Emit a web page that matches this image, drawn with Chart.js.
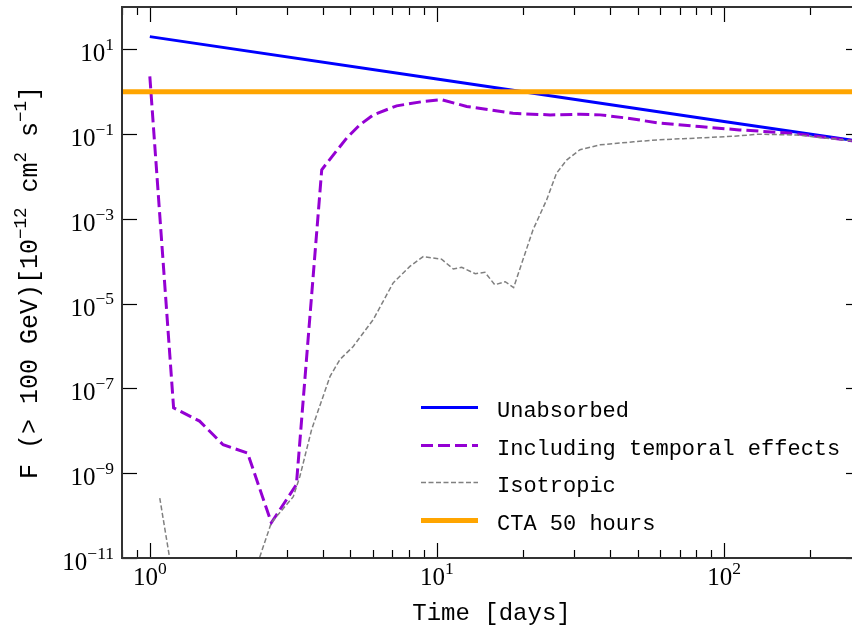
<!DOCTYPE html>
<html>
<head>
<meta charset="utf-8">
<script src="https://cdn.jsdelivr.net/npm/chart.js@4.4.1/dist/chart.umd.min.js"></script>
<style>
  html, body { margin: 0; padding: 0; background: #fff; }
  #wrap { width: 852px; height: 628px; overflow: hidden; }
  canvas { display: block; }
</style>
</head>
<body>
<div id="wrap"><canvas id="chart" width="861" height="628"></canvas></div>
<script>
// time in days, flux F(>100 GeV) in 1e-12 cm^-2 s^-1
var unabsorbedTime = [1, 10, 100, 300];
var unabsorbedFlux = [20, 2, 0.2, 0.067];

var temporalTime = [1.0, 1.21, 1.49, 1.80, 2.19, 2.65, 3.24, 3.97, 4.85, 5.39, 6.0, 7.24, 8.96, 10.4, 12.7, 18.4, 24.8, 31.5, 37, 45.8, 59.6, 82, 113, 173, 300];
var temporalFlux = [2.3, 3.5e-8, 1.7e-8, 4.7e-9, 3.0e-9, 6.8e-11, 5.4e-10, 1.45e-2, 8.1e-2, 0.166, 0.285, 0.465, 0.59, 0.65, 0.45, 0.31, 0.285, 0.295, 0.285, 0.24, 0.182, 0.151, 0.126, 0.105, 0.066];

var isotropicTime = [1.083, 1.24, 2.14, 2.42, 2.65, 3.16, 3.33, 3.66, 4.24, 4.59, 5.11, 6.0, 7.04, 8.05, 8.96, 10.38, 11.4, 12.2, 13.6, 14.7, 15.9, 17.3, 18.5, 21.6, 24.1, 26.1, 28.3, 31.5, 37, 48.4, 59.6, 72, 107, 133, 180, 300];
var isotropicFlux = [2.6e-10, 1e-12, 1e-12, 1.1e-11, 6.8e-11, 2.8e-10, 8.3e-10, 1.07e-8, 1.9e-7, 4.8e-7, 9.8e-7, 4.2e-6, 3.1e-5, 7.6e-5, 1.29e-4, 1.12e-4, 6.6e-5, 7.2e-5, 5.1e-5, 5.5e-5, 2.8e-5, 3.3e-5, 2.4e-5, 5.5e-4, 2.8e-3, 1.2e-2, 2.45e-2, 4.3e-2, 5.6e-2, 6.6e-2, 7.4e-2, 7.8e-2, 8.9e-2, 0.1, 0.095, 0.066];

var ctaTime = [0.8, 300];
var ctaFlux = [1, 1];

var xTickValues = [1, 10, 100];
var xTickExponents = ['0', '1', '2'];
var xMinorTicks = [0.8, 0.9, 2, 3, 4, 5, 6, 7, 8, 9, 20, 30, 40, 50, 60, 70, 80, 90, 200];
var yTickValues = [1e-11, 1e-9, 1e-7, 1e-5, 1e-3, 1e-1, 1e1];
var yTickExponents = ['\u221211', '\u22129', '\u22127', '\u22125', '\u22123', '\u22121', '1'];

var legendLabels = ['Unabsorbed', 'Including temporal effects', 'Isotropic', 'CTA 50 hours'];

function pairs(xs, ys) {
  return xs.map(function (x, i) { return { x: x, y: ys[i] }; });
}

var mono = '"Liberation Mono", "DejaVu Sans Mono", monospace';
var serif = '"Liberation Serif", "DejaVu Serif", serif';

// draws text made of [string, isSuperscript] parts; align: 'center' or 'right'
function drawRich(ctx, parts, x, y, size, family, align, supRaise) {
  var total = 0;
  parts.forEach(function (p) {
    ctx.font = (p[1] ? size * 0.7 : size) + 'px ' + family;
    total += ctx.measureText(p[0]).width;
  });
  var cx = align === 'right' ? x - total : x - total / 2;
  parts.forEach(function (p) {
    ctx.font = (p[1] ? size * 0.7 : size) + 'px ' + family;
    ctx.fillText(p[0], cx, p[1] ? y - size * (supRaise || 0.45) : y);
    cx += ctx.measureText(p[0]).width;
  });
}

var framePlugin = {
  id: 'frame',
  afterDraw: function (chart) {
    var ctx = chart.ctx, a = chart.chartArea;
    var xs = chart.scales.x, ys = chart.scales.y;
    ctx.save();
    ctx.strokeStyle = '#000';
    ctx.lineWidth = 1.2;
    function seg(x1, y1, x2, y2) {
      ctx.beginPath(); ctx.moveTo(x1, y1); ctx.lineTo(x2, y2); ctx.stroke();
    }
    xTickValues.forEach(function (v) {
      var p = Math.round(xs.getPixelForValue(v)) + 0.5;
      seg(p, a.bottom, p, a.bottom - 15);
      seg(p, a.top, p, a.top + 15);
    });
    xMinorTicks.forEach(function (v) {
      var p = Math.round(xs.getPixelForValue(v)) + 0.5;
      seg(p, a.bottom, p, a.bottom - 8);
      seg(p, a.top, p, a.top + 8);
    });
    yTickValues.forEach(function (v) {
      var p = Math.round(ys.getPixelForValue(v)) + 0.5;
      seg(a.left, p, a.left + 15, p);
      seg(a.right, p, a.right - 15, p);
    });
    ctx.strokeStyle = '#333';
    ctx.lineWidth = 2;
    ctx.strokeRect(a.left, a.top, a.right - a.left, a.bottom - a.top);

    // tick labels
    ctx.fillStyle = '#000';
    ctx.textBaseline = 'alphabetic';
    ctx.textAlign = 'left';
    xTickValues.forEach(function (v, i) {
      drawRich(ctx, [['10', false], [xTickExponents[i], true]], xs.getPixelForValue(v), a.bottom + 27, 25, serif, 'center', 0.45);
    });
    yTickValues.forEach(function (v, i) {
      drawRich(ctx, [['10', false], [yTickExponents[i], true]], a.left - 8, ys.getPixelForValue(v) + 12, 25, serif, 'right', 0.45);
    });

    // axis titles
    drawRich(ctx, [['Time [days]', false]], (a.left + a.right) / 2, 620, 24, mono, 'center');
    ctx.save();
    ctx.translate(37, (a.top + a.bottom) / 2);
    ctx.rotate(-Math.PI / 2);
    drawRich(ctx, [['F (> 100 GeV)[10', false], ['\u221212', true], [' cm', false], ['2', true],
      [' s', false], ['\u22121', true], [']', false]], 0, 0, 25, mono, 'center', 0.45);
    ctx.restore();

    // legend
    var ds = chart.data.datasets;
    var rowY = [417, 455, 492, 530];
    ds.forEach(function (d, i) {
      ctx.save();
      ctx.strokeStyle = d.borderColor;
      ctx.lineWidth = d.borderWidth;
      ctx.setLineDash(d.borderDash || []);
      seg(421, rowY[i] - 9.5, 478, rowY[i] - 9.5);
      ctx.restore();
      ctx.font = '22px ' + mono;
      ctx.fillStyle = '#000';
      ctx.fillText(legendLabels[i], 497, rowY[i]);
    });
    ctx.restore();
  }
};

function noPadding(scale) {
  scale.paddingLeft = 0;
  scale.paddingRight = 0;
  scale.paddingTop = 0;
  scale.paddingBottom = 0;
}

var canvas = document.getElementById('chart');
var context = canvas.getContext('2d');

var chart = new Chart(context, {
  type: 'line',
  data: {
    datasets: [
      {
        label: legendLabels[0],
        data: pairs(unabsorbedTime, unabsorbedFlux),
        borderColor: '#0000ff',
        borderWidth: 3,
        order: 3
      }, {
        label: legendLabels[1],
        data: pairs(temporalTime, temporalFlux),
        borderColor: '#9400d3',
        borderWidth: 3,
        borderDash: [12, 5],
        order: 2
      }, {
        label: legendLabels[2],
        data: pairs(isotropicTime, isotropicFlux),
        borderColor: '#808080',
        borderWidth: 1.5,
        borderDash: [5, 2.5],
        order: 1
      }, {
        label: legendLabels[3],
        data: pairs(ctaTime, ctaFlux),
        borderColor: '#ffa500',
        borderWidth: 5,
        order: 0
      }
    ]
  },
  options: {
    responsive: false,
    animation: false,
    elements: { point: { radius: 0 }, line: { tension: 0, fill: false } },
    layout: { padding: { top: 7, right: 0, left: 0, bottom: 0 } },
    plugins: { legend: { display: false }, tooltip: { enabled: false } },
    scales: {
      x: {
        type: 'logarithmic',
        min: 0.8,
        max: 300,
        grid: { display: false, drawTicks: false },
        border: { display: false },
        ticks: { display: false },
        afterBuildTicks: function (scale) {
          scale.ticks = xTickValues.map(function (v) { return { value: v }; });
        },
        afterFit: function (scale) { scale.height = 70; noPadding(scale); }
      },
      y: {
        type: 'logarithmic',
        min: 1e-11,
        max: 1e2,
        grid: { display: false, drawTicks: false },
        border: { display: false },
        ticks: { display: false },
        afterBuildTicks: function (scale) {
          scale.ticks = yTickValues.map(function (v) { return { value: v }; });
        },
        afterFit: function (scale) { scale.width = 122; noPadding(scale); }
      }
    }
  },
  plugins: [framePlugin]
});
</script>
</body>
</html>
